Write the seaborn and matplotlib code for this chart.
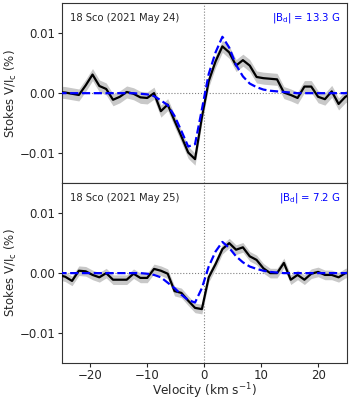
import numpy as np
import matplotlib
matplotlib.use("Agg")
import matplotlib.pyplot as plt
import seaborn as sns

# LSD velocity grid (km/s)
velocity = np.round(np.arange(44) * 1.2 - 25.6, 1)

# 18 Sco, 2021 May 24
stokes_v_may24 = [0.0002, 0.0001, -0.0001, -0.0003, 0.0013, 0.0031, 0.0012, 0.0007,
                  -0.0011, -0.0006, 0.0002, -0.0001, -0.0007, -0.0008, 0.0000, -0.0030,
                  -0.0019, -0.0046, -0.0072, -0.0099, -0.0110, -0.0040, 0.0020, 0.0053,
                  0.0078, 0.0068, 0.0046, 0.0055, 0.0046, 0.0027, 0.0025, 0.0024,
                  0.0023, 0.0001, -0.0003, -0.0008, 0.0011, 0.0011, -0.0006, -0.0010,
                  0.0003, -0.0018, -0.0006, 0.0000]
model_may24 = [0.0, 0.0, 0.0, 0.0, 0.0, 0.0, 0.0, 0.0,
               0.0, 0.0, 0.0, 0.0, -0.0001, -0.0002, -0.0005, -0.0012,
               -0.0020, -0.0038, -0.0063, -0.0089, -0.0085, -0.0027, 0.0032, 0.0068,
               0.0094, 0.0076, 0.0047, 0.0028, 0.0016, 0.0010, 0.0006, 0.0004,
               0.0003, 0.0002, 0.0001, 0.0, 0.0, 0.0, 0.0, 0.0,
               0.0, 0.0, 0.0, 0.0]
err_may24 = 0.001
bd_may24 = 13.3

# 18 Sco, 2021 May 25
stokes_v_may25 = [-0.0003, -0.0006, -0.0013, 0.0004, 0.0003, -0.0003, -0.0007, 0.0000,
                  -0.0011, -0.0011, -0.0011, -0.0001, -0.0008, -0.0008, 0.0007, 0.0004,
                  -0.0001, -0.0030, -0.0033, -0.0046, -0.0058, -0.0060, -0.0007, 0.0015,
                  0.0040, 0.0050, 0.0039, 0.0043, 0.0028, 0.0022, 0.0008, 0.0000,
                  0.0000, 0.0017, -0.0011, -0.0003, -0.0011, -0.0001, 0.0002, -0.0003,
                  -0.0003, -0.0007, 0.0000, 0.0002]
model_may25 = [0.0, 0.0, 0.0, 0.0, 0.0, 0.0, 0.0, 0.0,
               0.0, 0.0, 0.0, 0.0, 0.0, -0.0001, -0.0003, -0.0007,
               -0.0016, -0.0025, -0.0036, -0.0045, -0.0049, -0.0025, 0.0011, 0.0036,
               0.0052, 0.0042, 0.0028, 0.0018, 0.0011, 0.0007, 0.0004, 0.0002,
               0.0001, 0.0, 0.0, 0.0, 0.0, 0.0, 0.0, 0.0,
               0.0, 0.0, 0.0, 0.0]
err_may25 = 0.0008
bd_may25 = 7.2

panels = [
    ("18 Sco (2021 May 24)", stokes_v_may24, model_may24, err_may24, bd_may24),
    ("18 Sco (2021 May 25)", stokes_v_may25, model_may25, err_may25, bd_may25),
]

sns.set_style("ticks")
plt.rcParams['font.family'] = ['DejaVu Sans']

fig, axes = plt.subplots(2, 1, figsize=(3.49, 3.99), dpi=100, sharex=True, sharey=True)
fig.subplots_adjust(left=0.177, right=0.993, top=0.992, bottom=0.09, hspace=0)

for ax, (label, v, model, err, bd) in zip(axes, panels):
    v = np.array(v)
    ax.axhline(0, color='gray', ls=':', lw=0.8, zorder=0)
    ax.axvline(0, color='gray', ls=':', lw=0.8, zorder=0)
    ax.fill_between(velocity, v - err, v + err, color='#c8c8c8', lw=0, zorder=1)
    sns.lineplot(x=velocity, y=v, ax=ax, color='black', lw=1.6, zorder=3)
    sns.lineplot(x=velocity, y=model, ax=ax, color='blue', lw=1.6, ls='--', zorder=4)
    ax.text(0.03, 0.92, label, transform=ax.transAxes, fontsize=7.2, va='center', ha='left')
    ax.text(0.977, 0.92, r"|B$_\mathrm{d}$| = %.1f G" % bd, transform=ax.transAxes,
            fontsize=7.3, va='center', ha='right', color='blue')
    ax.set_ylabel(r"Stokes V/I$_\mathrm{c}$ (%)", fontsize=8.5)
    ax.yaxis.set_label_coords(-0.15, 0.5)
    ax.tick_params(labelsize=8.5, length=3, pad=1.5)
    for s in ax.spines.values():
        s.set_color('#333333')

axes[0].set_xlim(-25, 25)
axes[0].set_ylim(-0.015, 0.015)
axes[0].set_yticks([-0.01, 0.0, 0.01])
axes[1].set_xlabel(r"Velocity (km s$^{-1}$)", fontsize=8.7)
axes[1].xaxis.set_label_coords(0.5, -0.1)

fig.savefig("out.png", dpi=100)
